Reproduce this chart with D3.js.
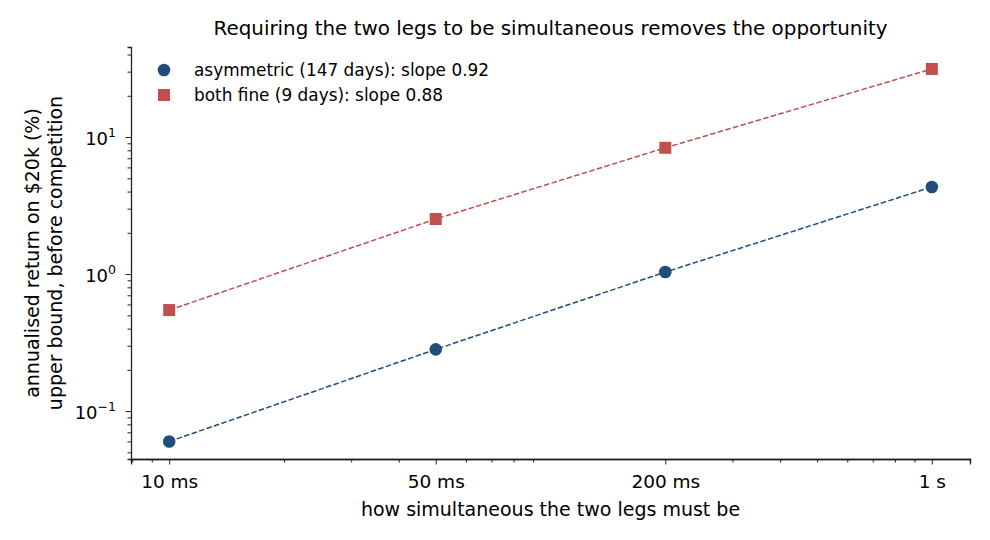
<!DOCTYPE html>
<html>
<head>
<meta charset="utf-8">
<script src="https://cdn.jsdelivr.net/npm/d3@7"></script>
<style>
  body { margin: 0; background: #fff; }
  text { font-family: "DejaVu Sans", sans-serif; fill: #000; }
</style>
</head>
<body>
<div id="chart"></div>
<script>
// Data (x in seconds, y = annualised return in %)
const windows = [0.01, 0.05, 0.2, 1];
const windowLabels = ["10 ms", "50 ms", "200 ms", "1 s"];
const asymmetric = [0.060, 0.282, 1.034, 4.32];
const bothFine = [0.546, 2.52, 8.35, 31.4];
const seriesNames = ["asymmetric (147 days): slope 0.92", "both fine (9 days): slope 0.88"];

const W = 990, H = 540;
const margin = { top: 47, right: 20, bottom: 81, left: 131 };
const width = W - margin.left - margin.right,
    height = H - margin.top - margin.bottom;

const svg = d3.select("#chart").append("svg")
    .attr("width", W)
    .attr("height", H);

const g = svg.append("g").attr("transform", `translate(${margin.left},${margin.top})`);

const x = d3.scaleLog().domain([0.00794, 1.259]).range([0, width]);
const y = d3.scaleLog().domain([0.0447, 45.4]).range([height, 0]);

// minor ticks: 2..9 x 10^k
function minors(scale) {
    const [a, b] = scale.domain();
    const out = [];
    for (let k = -4; k <= 3; k++) {
        for (let m = 2; m <= 9; m++) {
            const v = m * Math.pow(10, k);
            if (v >= a && v <= b) out.push(v);
        }
    }
    return out;
}

const xMinor = minors(x).filter(v => !windows.some(w => Math.abs(w - v) < 1e-9));
const yMajor = [0.1, 1, 10];
const yMinor = minors(y);

// x axis
const xAxis = g.append("g").attr("transform", `translate(0,${height})`);
xAxis.call(d3.axisBottom(x).tickValues(xMinor).tickSize(3.5).tickFormat(""));
xAxis.append("g").call(d3.axisBottom(x).tickValues(windows).tickSize(5.5).tickPadding(10)
    .tickFormat((d, i) => windowLabels[i]));

// y axis
const yAxis = g.append("g");
yAxis.call(d3.axisLeft(y).tickValues(yMinor).tickSize(3.5).tickFormat(""));
const yMaj = yAxis.append("g").call(d3.axisLeft(y).tickValues(yMajor).tickSize(5.5).tickPadding(6).tickFormat(""));
yMaj.selectAll(".tick").append("text")
    .attr("x", -15)
    .attr("dy", "0.4em")
    .attr("text-anchor", "end")
    .style("font-size", "18px")
    .each(function (d) {
        const t = d3.select(this);
        t.append("tspan").text("10");
        t.append("tspan").attr("dy", "-0.6em").style("font-size", "12.5px")
            .text(String(Math.round(Math.log10(d))).replace("-", "\u2212"));
    });

g.selectAll(".domain").attr("stroke", "#222").attr("stroke-width", 1.3);
g.selectAll(".tick line").attr("stroke", "#222").attr("stroke-width", 1);
xAxis.selectAll(".tick text").style("font-size", "18.5px").attr("fill", "#000");
// only keep one domain path per axis
xAxis.select("g").select(".domain").remove();
yMaj.select(".domain").remove();

// lines and markers
const line = d3.line().x((d, i) => x(windows[i])).y(d => y(d));

g.append("path").datum(bothFine)
    .attr("d", line)
    .attr("fill", "none")
    .attr("stroke", "#c0504d")
    .attr("stroke-width", 1.5)
    .attr("stroke-dasharray", "5.5,2.4");

g.append("path").datum(asymmetric)
    .attr("d", line)
    .attr("fill", "none")
    .attr("stroke", "#1f4e79")
    .attr("stroke-width", 1.5)
    .attr("stroke-dasharray", "5.5,2.4");

g.selectAll("circle.asym").data(asymmetric).join("circle")
    .attr("class", "asym")
    .attr("cx", (d, i) => x(windows[i]))
    .attr("cy", d => y(d))
    .attr("r", 6.3)
    .attr("fill", "#1f4e79");

g.selectAll("rect.both").data(bothFine).join("rect")
    .attr("class", "both")
    .attr("x", (d, i) => x(windows[i]) - 6)
    .attr("y", d => y(d) - 6)
    .attr("width", 12)
    .attr("height", 12)
    .attr("fill", "#c0504d");

// legend
const legend = g.append("g").attr("transform", "translate(33,23)");
legend.append("circle").attr("cx", 0).attr("cy", 0).attr("r", 6.3).attr("fill", "#1f4e79");
legend.append("rect").attr("x", -6).attr("y", 19).attr("width", 12).attr("height", 12).attr("fill", "#c0504d");
legend.selectAll("text").data(seriesNames).join("text")
    .attr("x", 30)
    .attr("y", (d, i) => i * 25)
    .attr("dy", "0.35em")
    .style("font-size", "16.9px")
    .text(d => d);

// title and labels
svg.append("text")
    .attr("x", margin.left + width / 2)
    .attr("y", 35)
    .attr("text-anchor", "middle")
    .style("font-size", "19.9px")
    .text("Requiring the two legs to be simultaneous removes the opportunity");

svg.append("text")
    .attr("x", margin.left + width / 2)
    .attr("y", 516)
    .attr("text-anchor", "middle")
    .style("font-size", "19px")
    .text("how simultaneous the two legs must be");

const yl = svg.append("text")
    .attr("transform", `translate(39,${margin.top + height / 2}) rotate(-90)`)
    .attr("text-anchor", "middle")
    .style("font-size", "19px");
yl.append("tspan").attr("x", 0).attr("dy", 0).text("annualised return on $20k (%)");
yl.append("tspan").attr("x", 0).attr("dy", "1.2em").text("upper bound, before competition");
</script>
</body>
</html>
